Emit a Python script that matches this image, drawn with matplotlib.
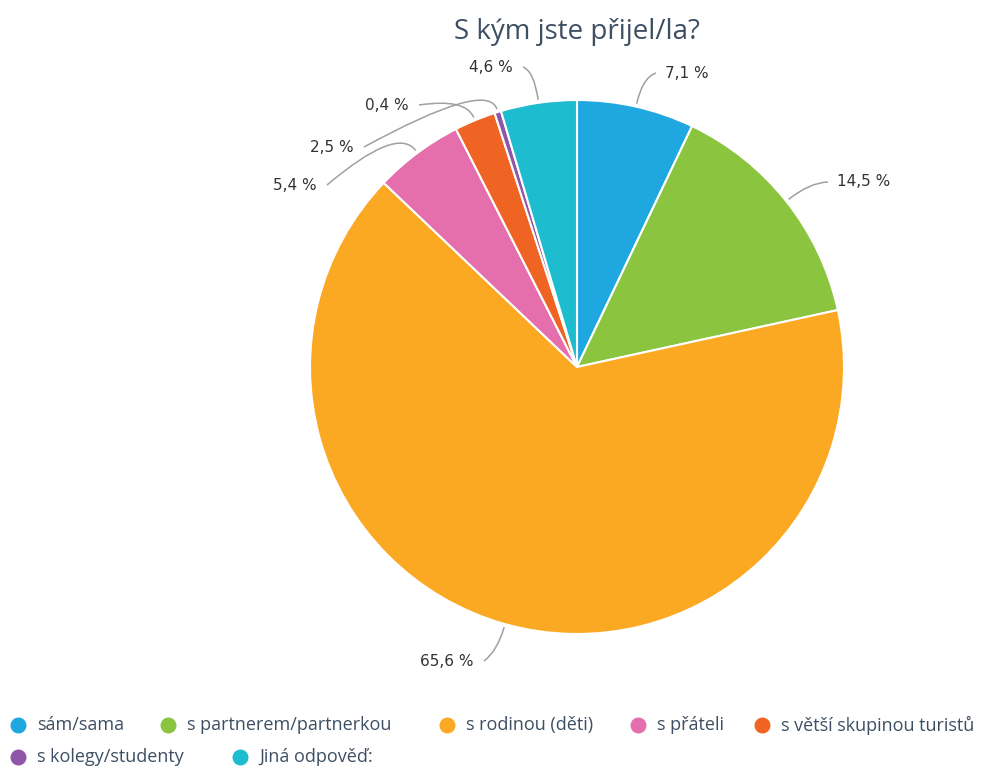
import numpy as np
import matplotlib.pyplot as plt
from matplotlib.path import Path
from matplotlib.patches import PathPatch

categories = ['sám/sama', 's partnerem/partnerkou', 's rodinou (děti)', 's přáteli',
              's větší skupinou turistů', 's kolegy/studenty', 'Jiná odpověď:']
values = [7.1, 14.5, 65.6, 5.4, 2.5, 0.4, 4.6]
labels = ['7,1 %', '14,5 %', '65,6 %', '5,4 %', '2,5 %', '0,4 %', '4,6 %']
colors = ['#1FA8E0', '#8BC540', '#FBA823', '#E56EAD', '#EF6423', '#8E55A8', '#1DBCCE']
# which wedge each label's connector runs to (the original crosses two of them)
targets = [0, 1, 2, 3, 5, 4, 6]

W, H = 986, 769
fig = plt.figure(figsize=(W / 100, H / 100), dpi=100)
ax = fig.add_axes([0, 0, 1, 1])

cx, cy, R = 577, H - 367, 267
wedges, _ = ax.pie(values, colors=colors, startangle=90, counterclock=False,
                   center=(cx, cy), radius=R, frame=True,
                   wedgeprops=dict(edgecolor='white', linewidth=1.5))
ax.set_xlim(0, W)
ax.set_ylim(0, H)
ax.set_aspect('equal')
ax.axis('off')

# label text positions (pixel coords from top), alignment, bend radius
label_pos = [(665, 73, 'left', 30), (837, 182, 'left', 30), (474, 661, 'right', 28),
             (317, 185, 'right', 34), (354, 147, 'right', 34), (409, 105, 'right', 24),
             (513, 67, 'right', 32)]
for i, (lab, (lx, ly, ha, bend)) in enumerate(zip(labels, label_pos)):
    w = wedges[targets[i]]
    ang = np.deg2rad((w.theta1 + w.theta2) / 2)
    sx, sy = cx + (R + 3) * np.cos(ang), cy + (R + 3) * np.sin(ang)
    kx, ky = cx + (R + bend) * np.cos(ang), cy + (R + bend) * np.sin(ang)
    ly = H - ly
    ex = lx - 9 if ha == 'left' else lx + 10
    path = Path([(sx, sy), (kx, ky), (ex, ly)], [Path.MOVETO, Path.CURVE3, Path.CURVE3])
    ax.add_patch(PathPatch(path, fill=False, edgecolor='#a0a0a0', linewidth=1.1))
    ax.text(lx, ly, lab, ha=ha, va='center', fontsize=11, color='#333333',
            family='DejaVu Sans')

fig.text(577 / W, 1 - 32 / H, 'S kým jste přijel/la?', ha='center', va='center',
         fontsize=20, color='#3D4F63', family='Open Sans')

# legend laid out in flowing rows like the original
leg_pos = [(18, 725), (168, 725), (447, 725), (638, 725), (762, 725),
           (18, 757), (240, 757)]
for cat, col, (px, py) in zip(categories, colors, leg_pos):
    ax.scatter([px], [H - py], s=110, color=col, clip_on=False)
    ax.text(px + 19, H - py, cat, ha='left', va='center', fontsize=13,
            color='#3D4F63', family='Open Sans')

fig.savefig('out.png', dpi=100)
